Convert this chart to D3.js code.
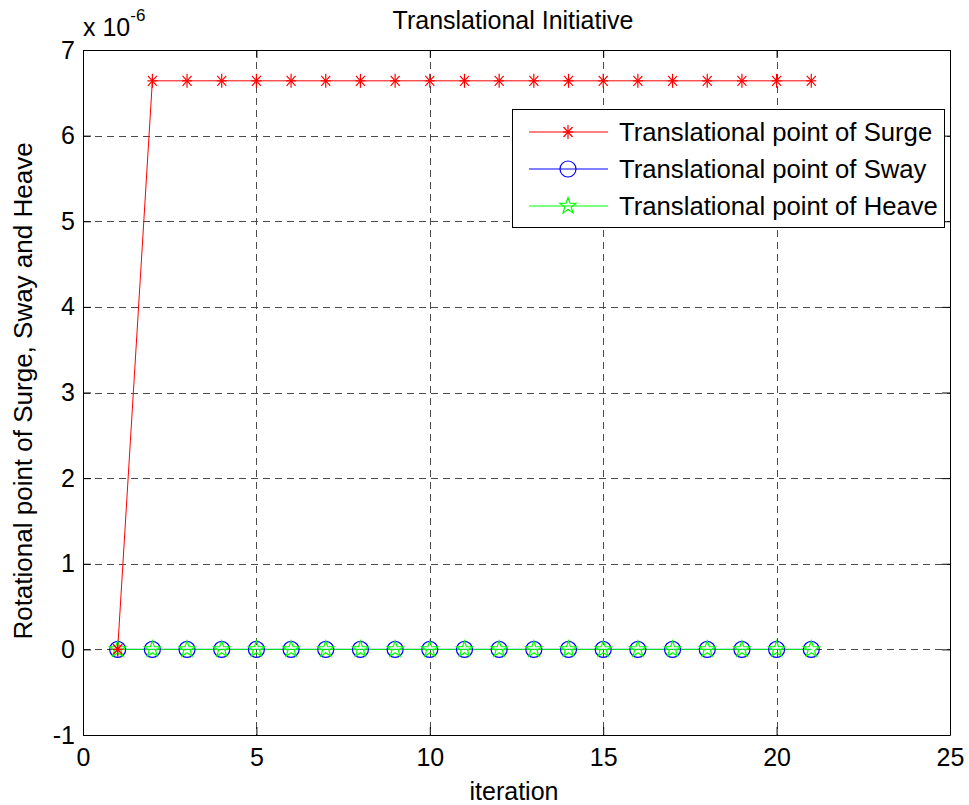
<!DOCTYPE html>
<html>
<head>
<meta charset="utf-8">
<script src="https://cdn.jsdelivr.net/npm/d3@7"></script>
<style>
  body { margin: 0; background: #fff; }
  text { font-family: "Liberation Sans", Arial, sans-serif; fill: #000; }
</style>
</head>
<body>
<svg width="969" height="805"></svg>
<script>
// data
const iterations = d3.range(1, 22);
const surge = [0, 6.64e-6, 6.64e-6, 6.64e-6, 6.64e-6, 6.64e-6, 6.64e-6, 6.64e-6, 6.64e-6, 6.64e-6,
  6.64e-6, 6.64e-6, 6.64e-6, 6.64e-6, 6.64e-6, 6.64e-6, 6.64e-6, 6.64e-6, 6.64e-6, 6.64e-6, 6.64e-6];
const sway = [0, 0, 0, 0, 0, 0, 0, 0, 0, 0, 0, 0, 0, 0, 0, 0, 0, 0, 0, 0, 0];
const heave = [0, 0, 0, 0, 0, 0, 0, 0, 0, 0, 0, 0, 0, 0, 0, 0, 0, 0, 0, 0, 0];
const xTicks = [0, 5, 10, 15, 20, 25];
const yTicks = [-1, 0, 1, 2, 3, 4, 5, 6, 7];
const seriesNames = ["Translational point of Surge", "Translational point of Sway", "Translational point of Heave"];

const svg = d3.select("svg");
const pLeft = 83, pRight = 950, pTop = 50, pBottom = 735;
const fs = "25px";

const x = d3.scaleLinear().domain([0, 25]).range([pLeft, pRight]);
const y = d3.scaleLinear().domain([-1e-6, 7e-6]).range([pBottom, pTop]);

// grid
const grid = svg.append("g").attr("stroke", "#000").attr("stroke-width", 1)
    .attr("stroke-dasharray", "7,5").attr("opacity", 0.7);
grid.selectAll(".gx").data(xTicks.slice(1, -1)).enter().append("line")
    .attr("x1", d => Math.round(x(d)) + 0.5).attr("x2", d => Math.round(x(d)) + 0.5)
    .attr("y1", pTop).attr("y2", pBottom);
grid.selectAll(".gy").data(yTicks.slice(1, -1)).enter().append("line")
    .attr("y1", d => Math.round(y(d * 1e-6)) + 0.5).attr("y2", d => Math.round(y(d * 1e-6)) + 0.5)
    .attr("x1", pLeft).attr("x2", pRight);

// axes (matlab style, inward ticks on all sides)
const fmt = d => d;
svg.append("g").attr("transform", `translate(0,${pBottom})`)
    .call(d3.axisBottom(x).tickValues(xTicks).tickSizeInner(-8).tickSizeOuter(0).tickPadding(13).tickFormat(fmt))
    .call(g => g.selectAll("text").style("font-size", fs).attr("font-family", null));
svg.append("g").attr("transform", `translate(0,${pTop})`)
    .call(d3.axisTop(x).tickValues(xTicks).tickSizeInner(-8).tickSizeOuter(0).tickFormat(""));
const yAx = d3.scaleLinear().domain([-1, 7]).range([pBottom, pTop]);
svg.append("g").attr("transform", `translate(${pLeft},0)`)
    .call(d3.axisLeft(yAx).tickValues(yTicks).tickSizeInner(-8).tickSizeOuter(0).tickPadding(8).tickFormat(fmt))
    .call(g => g.selectAll("text").style("font-size", fs).attr("font-family", null));
svg.append("g").attr("transform", `translate(${pRight},0)`)
    .call(d3.axisRight(yAx).tickValues(yTicks).tickSizeInner(-8).tickSizeOuter(0).tickFormat(""));
svg.selectAll(".domain").attr("stroke", "#000");

// exponent label
const expo = svg.append("text").attr("x", pLeft).attr("y", 36).style("font-size", fs);
expo.append("tspan").text("x 10");
expo.append("tspan").attr("dy", -15).style("font-size", "17px").text("-6");

// titles
svg.append("text").attr("x", 513).attr("y", 29).attr("text-anchor", "middle")
    .style("font-size", fs).text("Translational Initiative");
svg.append("text").attr("x", 514).attr("y", 800).attr("text-anchor", "middle")
    .style("font-size", fs).text("iteration");
svg.append("text").attr("transform", `translate(32,391) rotate(-90)`)
    .attr("text-anchor", "middle").style("font-size", "26px")
    .text("Rotational point of Surge, Sway and Heave");

// markers
function star(r) {
  const pts = [];
  for (let i = 0; i < 10; i++) {
    const a = -Math.PI / 2 + i * Math.PI / 5;
    const rr = i % 2 === 0 ? r : r * 0.4;
    pts.push([rr * Math.cos(a), rr * Math.sin(a)]);
  }
  return "M" + pts.map(p => p.join(",")).join("L") + "Z";
}
function drawMarker(g, type, color, cx, cy) {
  if (type === "asterisk") {
    const a = g.append("g").attr("transform", `translate(${cx},${cy})`)
        .attr("stroke", color).attr("stroke-width", 1.2);
    a.append("line").attr("x1", -5).attr("x2", 5).attr("y1", 0).attr("y2", 0);
    a.append("line").attr("x1", 0).attr("x2", 0).attr("y1", -7).attr("y2", 7);
    a.append("line").attr("x1", -4.5).attr("x2", 4.5).attr("y1", -5).attr("y2", 5);
    a.append("line").attr("x1", -4.5).attr("x2", 4.5).attr("y1", 5).attr("y2", -5);
  } else if (type === "circle") {
    g.append("circle").attr("cx", cx).attr("cy", cy).attr("r", 8)
        .attr("fill", "none").attr("stroke", color).attr("stroke-width", 1.2);
  } else {
    g.append("path").attr("d", star(8.5)).attr("transform", `translate(${cx},${cy})`)
        .attr("fill", "none").attr("stroke", color).attr("stroke-width", 1.2);
  }
}

const series = [
  { values: surge, color: "#ff0000", marker: "asterisk" },
  { values: sway, color: "#0000ff", marker: "circle" },
  { values: heave, color: "#00ff00", marker: "star" }
];

const line = d3.line().x((d, i) => x(iterations[i])).y(d => y(d));
const plot = svg.append("g");
series.forEach(s => {
  plot.append("path").datum(s.values).attr("d", line)
      .attr("fill", "none").attr("stroke", s.color).attr("stroke-width", 1);
});
series.forEach(s => {
  const mg = plot.append("g");
  s.values.forEach((v, i) => drawMarker(mg, s.marker, s.color, x(iterations[i]), y(v)));
});
// the first surge marker shows on top of the circles
drawMarker(plot.append("g"), "asterisk", "#ff0000", x(iterations[0]), y(surge[0]));

// legend
const lg = svg.append("g");
lg.append("rect").attr("x", 512.5).attr("y", 109.5).attr("width", 432).attr("height", 118)
    .attr("fill", "#fff").attr("stroke", "#000").attr("stroke-width", 1);
series.forEach((s, i) => {
  const ly = 132 + i * 37;
  lg.append("line").attr("x1", 529).attr("x2", 608).attr("y1", ly).attr("y2", ly)
      .attr("stroke", s.color).attr("stroke-width", 1);
  drawMarker(lg, s.marker, s.color, 568, ly);
  lg.append("text").attr("x", 619).attr("y", ly + 9).style("font-size", "25.7px").text(seriesNames[i]);
});
</script>
</body>
</html>
